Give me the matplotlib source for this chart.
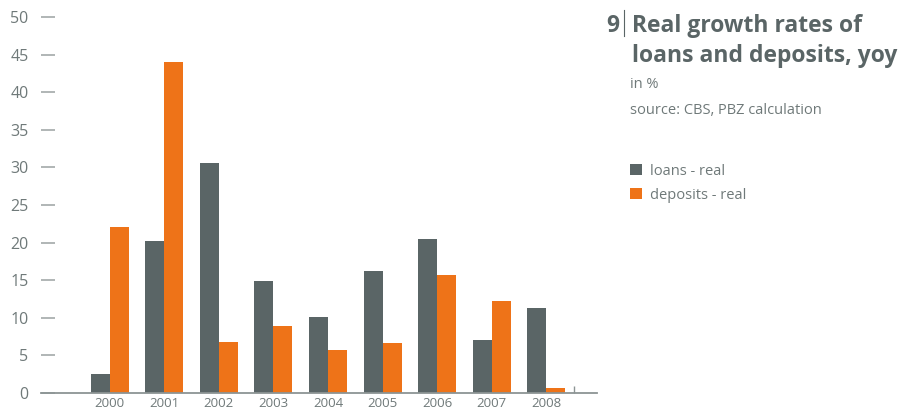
import matplotlib

matplotlib.use("Agg")
import matplotlib.pyplot as plt
import numpy as np

years = ["2000", "2001", "2002", "2003", "2004", "2005", "2006", "2007", "2008"]
loans_real = [2.5, 20.2, 30.6, 14.9, 10.1, 16.2, 20.5, 7.0, 11.3]
deposits_real = [22.1, 44.0, 6.8, 8.9, 5.7, 6.6, 15.7, 12.2, 0.6]
y_ticks = [0, 5, 10, 15, 20, 25, 30, 35, 40, 45, 50]

C_LOANS = "#5a6566"
C_DEP = "#ee7318"
C_TEXT = "#6f7979"
C_TICK = "#a3a9a9"

plt.rcParams["font.family"] = ["Open Sans", "DejaVu Sans"]

W, H = 913, 412
fig = plt.figure(figsize=(W / 100, H / 100), dpi=100)


def fx(px):
    return px / W


def fy(py):
    return 1 - py / H


ax = fig.add_axes([fx(41), fy(393), fx(597) - fx(41), fy(17) - fy(393)])

x = np.arange(len(years))
w = 0.348
ax.bar(x - w / 2, loans_real, w, color=C_LOANS, label="loans - real")
ax.bar(x + w / 2, deposits_real, w, color=C_DEP, label="deposits - real")

ax.set_ylim(0, 50)
ax.set_xlim(-1.26, 8.93)
ax.set_yticks(y_ticks)
ax.set_xticks(x)
ax.set_xticklabels(years)
ax.set_xticks([8.5], minor=True)

for s in ("left", "right", "top"):
    ax.spines[s].set_visible(False)
ax.spines["bottom"].set_color("#8c9494")
ax.spines["bottom"].set_linewidth(1.3)

ax.tick_params(axis="y", direction="in", length=10, width=1.2, color=C_TICK,
               labelsize=11.5, labelcolor=C_TEXT, pad=9)
ax.tick_params(axis="x", which="major", length=0, labelsize=9.5,
               labelcolor=C_TEXT, pad=3)
ax.tick_params(axis="x", which="minor", direction="in", length=5, width=1,
               color="#8c9494")

# title block
fig.text(fx(619), fy(32), "9", fontsize=16.5, fontweight="bold", color=C_LOANS,
         ha="right", va="baseline")
fig.add_artist(plt.Line2D([fx(624), fx(624)], [fy(10), fy(36)],
                          color=C_LOANS, lw=0.8))
fig.text(fx(632), fy(32), "Real growth rates of", fontsize=16.5,
         fontweight="bold", color=C_LOANS, ha="left", va="baseline")
fig.text(fx(632), fy(62), "loans and deposits, yoy", fontsize=16.5,
         fontweight="bold", color=C_LOANS, ha="left", va="baseline")
fig.text(fx(630), fy(85), "in %", fontsize=10.5, color=C_TEXT, va="center")
fig.text(fx(630), fy(110), "source: CBS, PBZ calculation", fontsize=10.5,
         color=C_TEXT, va="center")

# legend
handles, labels = ax.get_legend_handles_labels()
fig.legend(handles, labels, loc="upper left",
           bbox_to_anchor=(fx(624), fy(158)), frameon=False, fontsize=10.5,
           labelcolor=C_TEXT, handlelength=0.8, handleheight=0.8,
           handletextpad=0.55, labelspacing=0.62, borderaxespad=0)

fig.savefig("out.png", dpi=100)
